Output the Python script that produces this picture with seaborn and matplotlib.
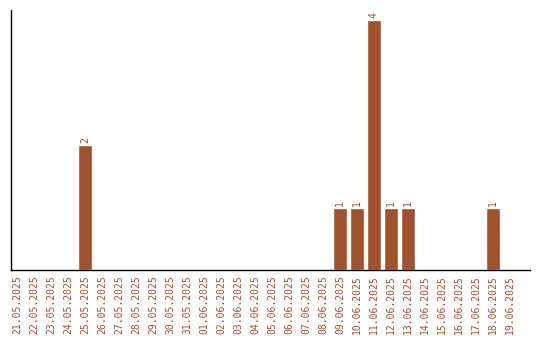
import matplotlib
matplotlib.use("Agg")
import matplotlib.pyplot as plt
import seaborn as sns
import pandas as pd

dates = ["21.05.2025", "22.05.2025", "23.05.2025", "24.05.2025", "25.05.2025",
         "26.05.2025", "27.05.2025", "28.05.2025", "29.05.2025", "30.05.2025",
         "31.05.2025", "01.06.2025", "02.06.2025", "03.06.2025", "04.06.2025",
         "05.06.2025", "06.06.2025", "07.06.2025", "08.06.2025", "09.06.2025",
         "10.06.2025", "11.06.2025", "12.06.2025", "13.06.2025", "14.06.2025",
         "15.06.2025", "16.06.2025", "17.06.2025", "18.06.2025", "19.06.2025"]
counts = [0, 0, 0, 0, 2, 0, 0, 0, 0, 0,
          0, 0, 0, 0, 0, 0, 0, 0, 0, 1,
          1, 4, 1, 1, 0, 0, 0, 0, 1, 0]

color = "#A0522D"
sns.set_style("white")
plt.rcParams['font.family'] = ['DejaVu Sans Mono']

df = pd.DataFrame({"date": dates, "count": counts})
fig = plt.figure(figsize=(5.4, 3.4), dpi=100)
ax = fig.add_axes([11/540, 70/340, 519/540, 260/340])
sns.barplot(data=df, x="date", y="count", color=color, width=0.82,
            saturation=1, ax=ax, order=dates)
ax.set_xlim(-0.35, len(dates) - 1 + 1.18)
ax.set_ylim(0, 4.16)
ax.set_xlabel("")
ax.set_ylabel("")
ax.set_yticks([])
ax.tick_params(axis="x", length=0, pad=4, labelsize=7, labelcolor=color, rotation=90)
for s in ["top", "right"]:
    ax.spines[s].set_visible(False)
for s in ["left", "bottom"]:
    ax.spines[s].set_color("black")
    ax.spines[s].set_linewidth(1)

for i, v in enumerate(counts):
    if v > 0:
        ax.text(i, v + 0.03, str(v), rotation=90, ha="center", va="bottom",
                fontsize=7, color=color)

fig.savefig("out.png", dpi=100)
